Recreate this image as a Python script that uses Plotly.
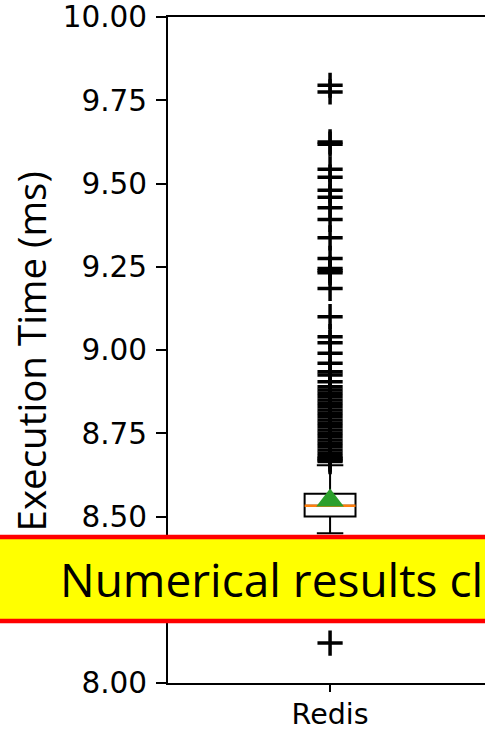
import plotly.graph_objects as go

# ---- data ----
categories = ["Redis"]
q1 = [8.50]
median = [8.532]
q3 = [8.568]
lower_fence = [8.45]
upper_fence = [8.654]
mean = [8.548]
outliers_high = [9.795, 9.775, 9.625, 9.618, 9.543, 9.519, 9.480, 9.459, 9.427,
                 9.392, 9.337, 9.275, 9.245, 9.238, 9.232, 9.185, 9.100, 9.040,
                 9.022, 8.990, 8.960, 8.935, 8.925, 8.905, 8.890, 8.880, 8.870,
                 8.860, 8.850, 8.840, 8.830, 8.820, 8.810, 8.800, 8.790, 8.780,
                 8.770, 8.760, 8.750, 8.740, 8.730, 8.720, 8.710, 8.700, 8.690,
                 8.680, 8.675, 8.670, 8.665]
outliers_low = [8.12]
y_ticks = [8.00, 8.25, 8.50, 8.75, 9.00, 9.25, 9.50, 9.75, 10.00]
y_title = "Execution Time (ms)"
banner_text = "Numerical results cl"

BOX_W = 0.157
xpos = [0]

fig = go.Figure()

fig.add_trace(go.Box(
    x=xpos, q1=q1, median=median, q3=q3,
    lowerfence=lower_fence, upperfence=upper_fence,
    width=BOX_W, whiskerwidth=0.52,
    fillcolor="rgba(0,0,0,0)",
    line=dict(color="black", width=2),
    boxpoints=False, showlegend=False, hoverinfo="skip",
))

# outliers
out_all = outliers_high + outliers_low
fig.add_trace(go.Scatter(
    x=[xpos[0]] * len(out_all), y=out_all, mode="markers",
    marker=dict(symbol="cross-thin", size=18, line=dict(color="black", width=3.5)),
    showlegend=False, hoverinfo="skip",
))

# median line (orange)
fig.add_trace(go.Scatter(
    x=[xpos[0] - BOX_W / 2, xpos[0] + BOX_W / 2], y=[median[0], median[0]],
    mode="lines", line=dict(color="#ff7f0e", width=2.5),
    showlegend=False, hoverinfo="skip",
))

# mean marker
fig.add_trace(go.Scatter(
    x=xpos, y=mean, mode="markers",
    marker=dict(symbol="triangle-up", size=24, color="#2ca02c", line=dict(width=0)),
    showlegend=False, hoverinfo="skip",
))

W, H = 485, 729
L, T, B = 168, 17, 46
pw = W - L
ph = H - T - B

def px_x(px):
    return (px - L) / pw

def px_y(py):
    return (H - B - py) / ph

fig.update_layout(
    width=W, height=H,
    margin=dict(l=L, r=0, t=T, b=B, pad=0, autoexpand=False),
    plot_bgcolor="white", paper_bgcolor="white",
    showlegend=False,
    xaxis=dict(
        range=[-0.5, 0.478], tickvals=xpos, ticktext=categories,
        ticks="outside", ticklen=7, tickwidth=2, tickcolor="black",
        showline=True, linecolor="black", linewidth=2, mirror=True,
        showgrid=False, zeroline=False, automargin=False,
        tickfont=dict(family="DejaVu Sans", size=28.5, color="black"),
        ticklabelstandoff=-2,
    ),
    yaxis=dict(
        range=[8.0, 10.0], tickvals=y_ticks, tickformat=".2f",
        ticks="outside", ticklen=10, tickwidth=2, tickcolor="black",
        showline=True, linecolor="black", linewidth=2, mirror=False,
        showgrid=False, zeroline=False, automargin=False,
        tickfont=dict(family="DejaVu Sans", size=29.5, color="black"),
        ticklabelstandoff=3,
    ),
    shapes=[dict(
        type="rect", xref="paper", yref="paper",
        x0=-1, x1=2, y0=px_y(621), y1=px_y(537),
        fillcolor="#ffff00", line=dict(color="#ff0000", width=4.5),
        layer="above",
    )],
    annotations=[
        dict(text=y_title, xref="paper", yref="paper",
             x=px_x(30.5), y=px_y(352), xanchor="center", yanchor="middle",
             textangle=-90, showarrow=False,
             font=dict(family="Open Sans", size=38.5, color="black")),
        dict(text=banner_text, xref="paper", yref="paper",
             x=px_x(58), y=px_y(579), xanchor="left", yanchor="middle",
             showarrow=False,
             font=dict(family="Open Sans", size=46, color="black")),
    ],
)

fig.write_html("out.html", config={"displayModeBar": False},
               post_script="document.body.style.margin='0';")
